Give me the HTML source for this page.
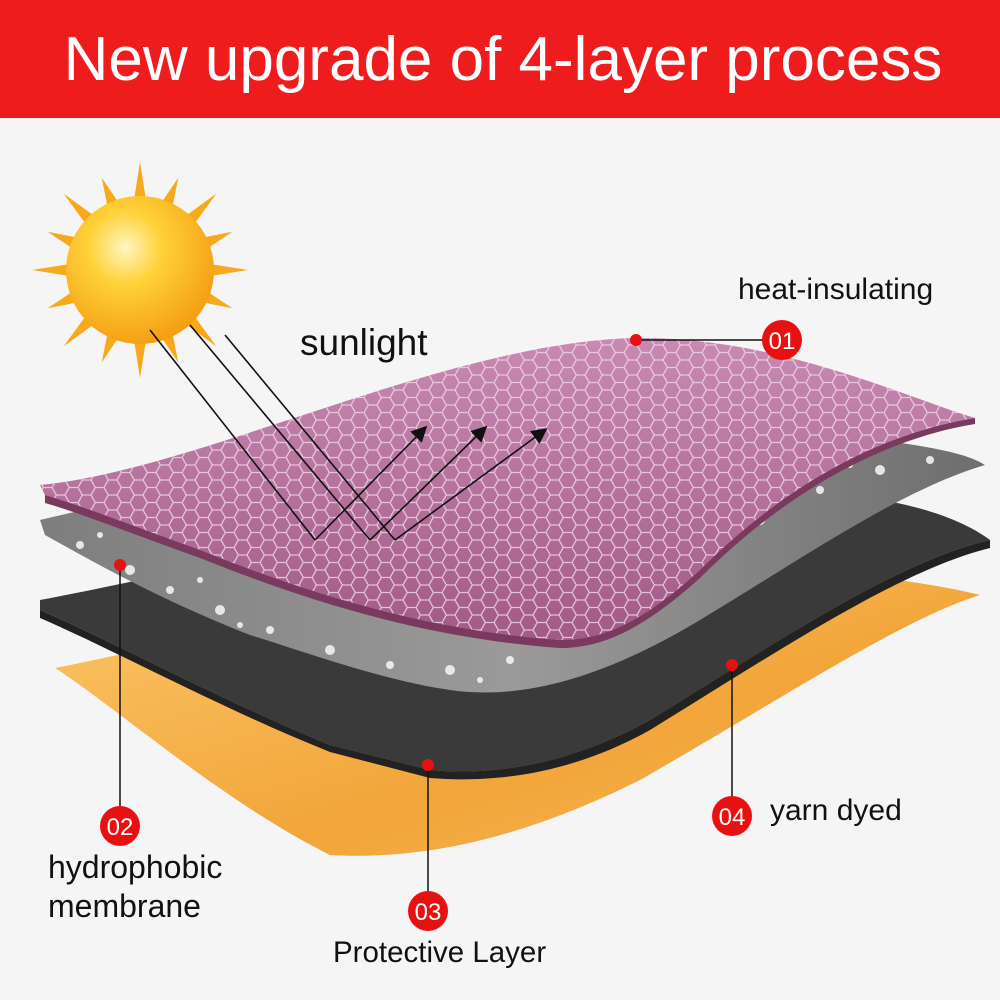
<!DOCTYPE html>
<html><head><meta charset="utf-8"><style>
html,body{margin:0;padding:0;width:1000px;height:1000px;overflow:hidden;background:#f6f6f6}
svg{display:block}
text{font-family:"Liberation Sans",sans-serif}
</style></head><body>
<svg width="1000" height="1000" viewBox="0 0 1000 1000" xmlns="http://www.w3.org/2000/svg">
<defs>
<radialGradient id="sun" cx="0.4" cy="0.35" r="0.7">
<stop offset="0" stop-color="#fff6c0"/><stop offset="0.35" stop-color="#ffd23a"/><stop offset="1" stop-color="#f39a10"/>
</radialGradient>
<linearGradient id="pur" x1="0" y1="0" x2="0" y2="1">
<stop offset="0" stop-color="#c88ab2"/><stop offset="1" stop-color="#a25a86"/>
</linearGradient>
<linearGradient id="org" x1="0" y1="0" x2="1" y2="1">
<stop offset="0" stop-color="#fbc86a"/><stop offset="0.6" stop-color="#f2a53a"/><stop offset="1" stop-color="#f7b955"/>
</linearGradient>
<linearGradient id="gry" x1="0" y1="0" x2="1" y2="0">
<stop offset="0" stop-color="#7e7e7e"/><stop offset="0.5" stop-color="#9a9a9a"/><stop offset="1" stop-color="#6e6e6e"/>
</linearGradient>
<pattern id="hex" width="26" height="15" patternUnits="userSpaceOnUse">
<path d="M0 7.5 L4.3 0 H13 L17.3 7.5 L13 15 H4.3 Z M17.3 7.5 H26" fill="none" stroke="#f1d8e8" stroke-width="1.3" opacity="0.8"/>
</pattern>
<marker id="ar" markerWidth="10" markerHeight="10" refX="8" refY="5" orient="auto">
<path d="M0 0 L10 5 L0 10 Z" fill="#111"/>
</marker>
</defs>
<rect width="1000" height="1000" fill="#f5f5f5"/>
<rect width="1000" height="118" fill="#ee1c1c"/>
<text x="503" y="80" font-size="62" fill="#fff" text-anchor="middle">New upgrade of 4-layer process</text>

<g transform="translate(140,270)">
<g fill="#f7a81b">
<polygon points="0,-108 6,-70 -6,-70"/><polygon points="0,108 6,70 -6,70"/><polygon points="-108,0 -70,6 -70,-6"/><polygon points="108,0 70,6 70,-6"/>
<g transform="rotate(22.5)"><polygon points="0,-100 6,-70 -6,-70"/><polygon points="0,100 6,70 -6,70"/><polygon points="-100,0 -70,6 -70,-6"/><polygon points="100,0 70,6 70,-6"/></g>
<g transform="rotate(45)"><polygon points="0,-108 6,-70 -6,-70"/><polygon points="0,108 6,70 -6,70"/><polygon points="-108,0 -70,6 -70,-6"/><polygon points="108,0 70,6 70,-6"/></g>
<g transform="rotate(67.5)"><polygon points="0,-100 6,-70 -6,-70"/><polygon points="0,100 6,70 -6,70"/><polygon points="-100,0 -70,6 -70,-6"/><polygon points="100,0 70,6 70,-6"/></g>
</g>
<circle r="74" fill="url(#sun)"/>
</g>

<path d="M55 668 C200 640 500 560 720 565 C850 570 940 585 980 595 C900 620 780 700 640 780 C520 840 420 860 330 855 C220 800 120 710 55 668 Z" fill="url(#org)"/>
<path d="M40 600 C250 560 600 470 850 495 C930 505 970 525 990 540 C900 560 780 640 650 720 C560 770 480 775 430 770 L330 745 C220 700 110 640 40 610 Z" fill="#3a3a3a"/>
<path d="M40 610 C110 640 220 700 330 745 L430 770 C480 775 560 770 650 720 C780 640 900 560 990 540 L990 548 C900 570 780 650 650 730 C560 780 480 782 430 778 L330 752 C220 708 110 648 40 618 Z" fill="#222"/>
<path d="M40 520 C250 470 600 400 880 440 C940 448 970 455 985 465 C900 490 800 560 700 620 C600 680 520 700 450 690 C380 680 300 650 250 635 C160 600 90 560 45 535 Z" fill="url(#gry)"/>
<g fill="#f2f2f2" opacity="0.9">
<circle cx="80" cy="545" r="4"/><circle cx="130" cy="570" r="5"/><circle cx="170" cy="590" r="4"/><circle cx="220" cy="610" r="5"/><circle cx="270" cy="630" r="4"/><circle cx="330" cy="650" r="5"/><circle cx="390" cy="665" r="4"/><circle cx="450" cy="670" r="5"/><circle cx="510" cy="660" r="4"/><circle cx="560" cy="640" r="5"/><circle cx="610" cy="600" r="7"/><circle cx="640" cy="565" r="8"/><circle cx="700" cy="560" r="5"/><circle cx="760" cy="520" r="5"/><circle cx="820" cy="490" r="4"/><circle cx="880" cy="470" r="5"/><circle cx="930" cy="460" r="4"/><circle cx="100" cy="535" r="3"/><circle cx="240" cy="625" r="3"/><circle cx="480" cy="680" r="3"/><circle cx="730" cy="540" r="3"/><circle cx="850" cy="465" r="3"/><circle cx="200" cy="580" r="3"/>
</g>
<path d="M40 485 C200 470 450 340 640 338 C780 338 900 395 975 418 C900 430 800 470 700 570 C640 625 600 640 560 640 C420 630 300 590 200 550 C130 525 80 505 45 495 Z" fill="url(#pur)"/>
<path d="M40 485 C200 470 450 340 640 338 C780 338 900 395 975 418 C900 430 800 470 700 570 C640 625 600 640 560 640 C420 630 300 590 200 550 C130 525 80 505 45 495 Z" fill="url(#hex)"/>
<path d="M45 495 C80 505 130 525 200 550 C300 590 420 630 560 640 C600 640 640 625 700 570 C800 470 900 430 975 418 L975 424 C900 436 800 478 700 578 C640 632 600 648 560 648 C420 638 300 598 200 558 C130 533 80 513 45 503 Z" fill="#7a3a60"/>

<g stroke="#111" stroke-width="1.6" fill="none">
<line x1="150" y1="330" x2="315" y2="540"/>
<line x1="190" y1="325" x2="370" y2="540"/>
<line x1="225" y1="335" x2="395" y2="540"/>
<line x1="315" y1="540" x2="425" y2="428" marker-end="url(#ar)"/>
<line x1="370" y1="540" x2="485" y2="428" marker-end="url(#ar)"/>
<line x1="395" y1="540" x2="545" y2="430" marker-end="url(#ar)"/>
</g>

<text x="300" y="355" font-size="37" fill="#111">sunlight</text>
<text x="738" y="299" font-size="30" fill="#111">heat-insulating</text>
<text x="770" y="820" font-size="30" fill="#111">yarn dyed</text>
<text x="48" y="878" font-size="32" fill="#111">hydrophobic</text>
<text x="48" y="917" font-size="32" fill="#111">membrane</text>
<text x="333" y="962" font-size="29.5" fill="#111">Protective Layer</text>

<g stroke="#111" stroke-width="1.5">
<line x1="636" y1="340" x2="770" y2="340"/>
<line x1="120" y1="565" x2="120" y2="815"/>
<line x1="428" y1="765" x2="428" y2="900"/>
<line x1="732" y1="665" x2="732" y2="805"/>
</g>
<g fill="#e81010">
<circle cx="636" cy="340" r="6"/><circle cx="120" cy="565" r="6"/><circle cx="428" cy="765" r="6"/><circle cx="732" cy="665" r="6"/>
<circle cx="782" cy="340" r="20"/><circle cx="120" cy="826" r="20"/><circle cx="428" cy="911" r="20"/><circle cx="732" cy="816" r="20"/>
</g>
<g fill="#fff" font-size="24" text-anchor="middle">
<text x="782" y="349">01</text><text x="120" y="835">02</text><text x="428" y="920">03</text><text x="732" y="825">04</text>
</g>
</svg>
</body></html>
